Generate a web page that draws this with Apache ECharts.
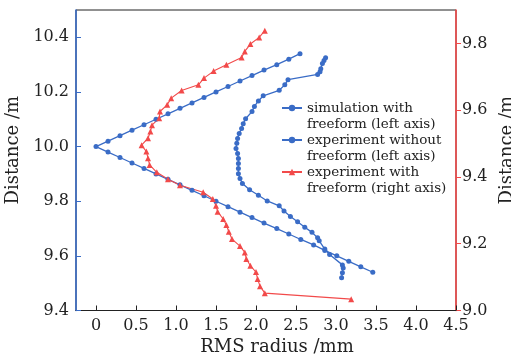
<!DOCTYPE html>
<html>
<head>
<meta charset="utf-8">
<script src="https://cdn.jsdelivr.net/npm/echarts@6/dist/echarts.min.js"></script>
<style>
html,body{margin:0;padding:0;background:#fff;}
#chart{width:511px;height:359px;}
</style>
</head>
<body>
<div id="chart"></div>
<script>
// Simulation with freeform (left axis)
const simRMS = [2.55, 2.41, 2.26, 2.10, 1.95, 1.80, 1.65, 1.50, 1.35, 1.20, 1.05, 0.90, 0.75, 0.60, 0.45, 0.30, 0.15, 0,
  0.15, 0.30, 0.45, 0.60, 0.75, 0.90, 1.05, 1.20, 1.35, 1.50, 1.65, 1.80, 1.95, 2.10, 2.26, 2.41, 2.56, 2.72, 2.86, 3.01, 3.16, 3.31, 3.46];
const simDist = [10.34, 10.32, 10.30, 10.28, 10.26, 10.24, 10.22, 10.20, 10.18, 10.16, 10.14, 10.12, 10.10, 10.08, 10.06, 10.04, 10.02, 10.00,
  9.98, 9.96, 9.94, 9.92, 9.90, 9.88, 9.86, 9.84, 9.82, 9.80, 9.78, 9.76, 9.74, 9.72, 9.70, 9.68, 9.66, 9.64, 9.62, 9.60, 9.58, 9.56, 9.54];

// Experiment without freeform (left axis)
const expRMS = [2.87, 2.85, 2.83, 2.81, 2.80, 2.77, 2.40, 2.36, 2.29, 2.09, 2.03, 1.98, 1.95, 1.87, 1.84, 1.82, 1.79, 1.77, 1.76, 1.75,
  1.77, 1.78, 1.78, 1.78, 1.78, 1.80, 1.83, 1.92, 2.03, 2.14, 2.29, 2.35, 2.43, 2.52, 2.61, 2.70, 2.77, 2.79, 2.86, 2.92, 3.08, 3.09, 3.08, 3.07];
const expDist = [10.325, 10.315, 10.304, 10.285, 10.274, 10.264, 10.245, 10.226, 10.206, 10.186, 10.167, 10.147, 10.128, 10.102, 10.084, 10.066, 10.048, 10.030, 10.012, 9.993,
  9.975, 9.956, 9.938, 9.920, 9.901, 9.883, 9.865, 9.842, 9.822, 9.801, 9.783, 9.764, 9.744, 9.725, 9.705, 9.686, 9.666, 9.655, 9.625, 9.605, 9.567, 9.556, 9.538, 9.520];

// Experiment with freeform (right axis)
const ffRMS = [2.11, 2.04, 1.93, 1.86, 1.82, 1.63, 1.47, 1.35, 1.28, 1.07, 0.94, 0.89, 0.80, 0.79, 0.70, 0.68, 0.65, 0.57,
  0.63, 0.65, 0.67, 0.76, 0.90, 1.05, 1.34, 1.46, 1.50, 1.52, 1.59, 1.63, 1.66, 1.70, 1.80, 1.86, 1.88, 1.93, 2.00, 2.02, 2.05, 2.11, 3.19];
const ffDist = [9.838, 9.818, 9.798, 9.776, 9.758, 9.736, 9.717, 9.696, 9.676, 9.659, 9.636, 9.616, 9.596, 9.576, 9.555, 9.536, 9.516, 9.495,
  9.476, 9.456, 9.436, 9.414, 9.393, 9.375, 9.354, 9.334, 9.314, 9.296, 9.274, 9.256, 9.236, 9.214, 9.193, 9.174, 9.154, 9.134, 9.115, 9.094, 9.073, 9.052, 9.034];

const xTicks = [0, 0.5, 1.0, 1.5, 2.0, 2.5, 3.0, 3.5, 4.0, 4.5];
const leftTicks = [9.4, 9.6, 9.8, 10.0, 10.2, 10.4];
const rightTicks = [9.0, 9.2, 9.4, 9.6, 9.8];

const seriesNames = ['simulation with\nfreeform (left axis)', 'experiment without\nfreeform (left axis)', 'experiment with\nfreeform (right axis)'];

const zip = (a, b) => a.map((v, i) => [v, b[i]]);
const BLUE = '#3a6cc6';
const RED = '#f24a4a';
const FONT = 'DejaVu Serif';

const chart = echarts.init(document.getElementById('chart'), null, {renderer: 'canvas'});
chart.setOption({
  animation: false,
  backgroundColor: '#fff',
  textStyle: {fontFamily: FONT},
  grid: {left: 76, right: 55, top: 10, bottom: 48.5, outerBoundsMode: 'none', containLabel: false,
    show: true, borderColor: '#222', borderWidth: 1, backgroundColor: 'transparent'},
  legend: {
    left: 281, top: 84, padding: 0, orient: 'vertical', itemGap: -16,
    itemWidth: 20, itemHeight: 8,
    formatter: name => '\n' + name,
    textStyle: {fontFamily: FONT, fontSize: 13.5, color: '#222', lineHeight: 16},
    data: seriesNames
  },
  xAxis: {
    type: 'value', min: -0.25, max: 4.5,
    name: 'RMS radius /mm', nameLocation: 'middle', nameGap: 27,
    nameTextStyle: {fontFamily: FONT, fontSize: 18, color: '#222', padding: [0, 0, 0, 22]},
    axisLine: {onZero: false, lineStyle: {color: '#222', width: 1.2}},
    axisTick: {inside: true, length: 5, customValues: xTicks, lineStyle: {color: '#222'}},
    axisLabel: {customValues: xTicks, margin: 7, fontFamily: FONT, fontSize: 16, color: '#222',
      formatter: v => v === 0 ? '0' : v.toFixed(1)},
    splitLine: {show: false}
  },
  yAxis: [{
    type: 'value', min: 9.4, max: 10.5, position: 'left',
    name: 'Distance /m', nameLocation: 'middle', nameGap: 47, nameRotate: 90,
    nameTextStyle: {fontFamily: FONT, fontSize: 18, color: '#222', padding: [0, 0, 0, 20]},
    axisLine: {onZero: false, lineStyle: {color: BLUE, width: 1.6}},
    axisTick: {inside: true, length: 5, customValues: leftTicks, lineStyle: {color: BLUE}},
    axisLabel: {customValues: leftTicks, margin: 7, fontFamily: FONT, fontSize: 16, color: '#222',
      formatter: v => v.toFixed(1)},
    splitLine: {show: false}
  }, {
    type: 'value', min: 9.0, max: 9.9, position: 'right',
    name: 'Distance /m', nameLocation: 'middle', nameGap: 37, nameRotate: 90,
    nameTextStyle: {fontFamily: FONT, fontSize: 18, color: '#222', padding: [0, 0, 0, 20]},
    axisLine: {onZero: false, lineStyle: {color: RED, width: 1.6}},
    axisTick: {inside: false, length: 5, customValues: rightTicks, lineStyle: {color: RED}},
    axisLabel: {customValues: rightTicks, margin: 6, fontFamily: FONT, fontSize: 16, color: '#222',
      formatter: v => v.toFixed(1)},
    splitLine: {show: false}
  }],
  series: [{
    name: seriesNames[0], type: 'line', yAxisIndex: 0,
    data: zip(simRMS, simDist),
    symbol: 'circle', symbolSize: 5,
    lineStyle: {color: BLUE, width: 1.3}, itemStyle: {color: BLUE}
  }, {
    name: seriesNames[1], type: 'line', yAxisIndex: 0,
    data: zip(expRMS, expDist),
    symbol: 'circle', symbolSize: 5,
    lineStyle: {color: BLUE, width: 1.3}, itemStyle: {color: BLUE}
  }, {
    name: seriesNames[2], type: 'line', yAxisIndex: 1,
    data: zip(ffRMS, ffDist),
    symbol: 'triangle', symbolSize: 6,
    lineStyle: {color: RED, width: 1.1}, itemStyle: {color: RED}
  }]
});
</script>
</body>
</html>
